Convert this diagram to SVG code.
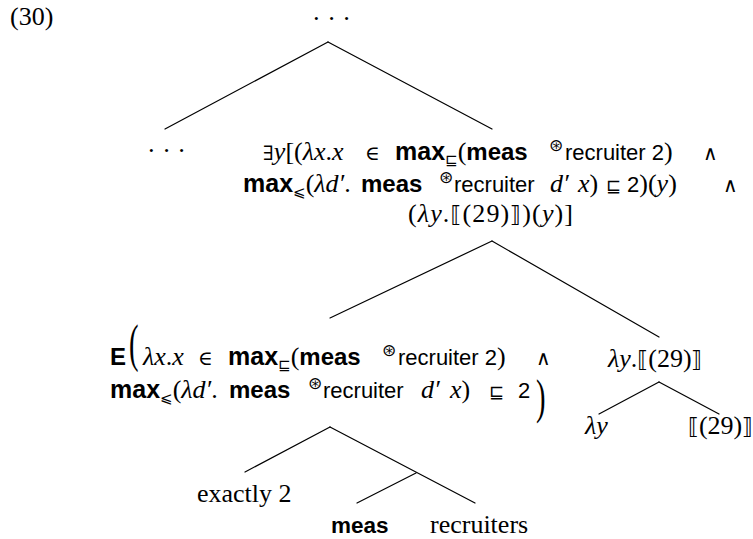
<svg xmlns="http://www.w3.org/2000/svg" width="753" height="539" viewBox="0 0 753 539">
<style>
.t{font-family:"Liberation Serif","Times New Roman",serif;font-size:26px;fill:#000}
.mi{font-style:italic}
.sb{font-family:"Liberation Sans",Arial,sans-serif;font-weight:bold;font-size:24px}
.mx{font-family:"Liberation Sans",Arial,sans-serif;font-weight:bold;font-size:25px}
.sf{font-family:"Liberation Sans",Arial,sans-serif;font-size:22px}
.ss{font-family:"DejaVu Sans",sans-serif;font-size:15px}
.sp{font-family:"DejaVu Sans",sans-serif;font-size:17px}
.sy{font-family:"DejaVu Serif","DejaVu Sans",serif;font-size:20px}
.rel{font-family:"DejaVu Sans",sans-serif;font-size:18px}
.br{font-family:"DejaVu Sans",sans-serif;font-size:22px}
.edge{stroke:#000;stroke-width:1.2;fill:none;stroke-linecap:round}
</style>
<g id="label"><text class="t" x="10" y="25">(30)</text></g>
<g id="connectors">
<line class="edge" x1="328" y1="42" x2="165" y2="129"/>
<line class="edge" x1="328" y1="42" x2="492" y2="129"/>
<line class="edge" x1="492" y1="241" x2="330" y2="318"/>
<line class="edge" x1="492" y1="241" x2="659" y2="337"/>
<line class="edge" x1="659" y1="382" x2="599" y2="414"/>
<line class="edge" x1="659" y1="382" x2="719" y2="414"/>
<line class="edge" x1="330" y1="427" x2="245" y2="472"/>
<line class="edge" x1="330" y1="427" x2="475" y2="503"/>
<line class="edge" x1="416" y1="473" x2="357" y2="503"/>
</g>
<g id="root"><text class="t" x="312" y="27">·&#160;·&#160;·</text></g>
<g id="left-dots"><text class="t" x="147" y="159">·&#160;·&#160;·</text></g>
<g id="exists-node">
<text class="t" y="160"><tspan x="263" class="sy">∃</tspan><tspan class="mi">y</tspan>[(<tspan class="mi">λx</tspan>.<tspan class="mi">x</tspan><tspan x="365" class="sy">∈</tspan><tspan x="395" class="mx">max</tspan><tspan class="ss" dy="5">⊑</tspan><tspan dy="-5">(</tspan><tspan class="sb">meas</tspan><tspan x="549" class="sp" dy="-9">⊛</tspan><tspan x="565" class="sf" dy="9">recruiter 2</tspan>)<tspan x="703" class="sy">∧</tspan></text>
<text class="t" y="192"><tspan x="243" class="mx">max</tspan><tspan class="ss" dy="5">⩽</tspan><tspan dy="-5">(</tspan><tspan class="mi">λd′</tspan>.<tspan x="361" class="sb">meas</tspan><tspan x="439" class="sp" dy="-9">⊛</tspan><tspan x="454" class="sf" dy="9">recruiter</tspan><tspan x="550" class="mi">d′</tspan><tspan x="578" class="mi">x</tspan>)<tspan x="606" class="rel">⊑</tspan><tspan x="627" class="sf">2</tspan>)(<tspan class="mi">y</tspan>)<tspan x="723" class="sy">∧</tspan></text>
<text class="t" x="408" y="222" textLength="165">(<tspan class="mi">λy</tspan>.<tspan class="br">⟦</tspan>(29)<tspan class="br">⟧</tspan>)(<tspan class="mi">y</tspan>)]</text>
</g>
<g id="E-node">
<text class="t" y="365"><tspan x="110" class="sb">E</tspan><tspan x="143" class="mi">λx</tspan>.<tspan class="mi">x</tspan><tspan x="198" class="sy">∈</tspan><tspan x="228" class="mx">max</tspan><tspan class="ss" dy="5">⊑</tspan><tspan dy="-5">(</tspan><tspan class="sb">meas</tspan><tspan x="382" class="sp" dy="-9">⊛</tspan><tspan x="398" class="sf" dy="9">recruiter 2</tspan>)<tspan x="536" class="sy">∧</tspan></text>
<text class="t" transform="translate(129,361) scale(1.1,2)">(</text>
<text class="t" y="398"><tspan x="110" class="mx">max</tspan><tspan class="ss" dy="5">⩽</tspan><tspan dy="-5">(</tspan><tspan class="mi">λd′</tspan>.<tspan x="229" class="sb">meas</tspan><tspan x="308" class="sp" dy="-9">⊛</tspan><tspan x="323" class="sf" dy="9">recruiter</tspan><tspan x="421" class="mi">d′</tspan><tspan x="450" class="mi">x</tspan>)<tspan x="489" class="rel">⊑</tspan><tspan x="518" class="sf">2</tspan></text>
<text class="t" transform="translate(536,413) scale(1.1,1.85)">)</text>
</g>
<g id="lambda-node"><text class="t" x="608" y="367"><tspan class="mi">λy</tspan>.<tspan class="br">⟦</tspan>(29)<tspan class="br">⟧</tspan></text></g>
<g id="lambda-y"><text class="t mi" x="585" y="434">λy</text></g>
<g id="denot-29"><text class="t" x="688" y="434"><tspan class="br">⟦</tspan>(29)<tspan class="br">⟧</tspan></text></g>
<g id="exactly-2"><text class="t" x="197" y="502">exactly 2</text></g>
<g id="meas"><text class="sb" x="331" y="533" style="font-size:22.5px">meas</text></g>
<g id="recruiters"><text class="t" x="430" y="533">recruiters</text></g>
</svg>
